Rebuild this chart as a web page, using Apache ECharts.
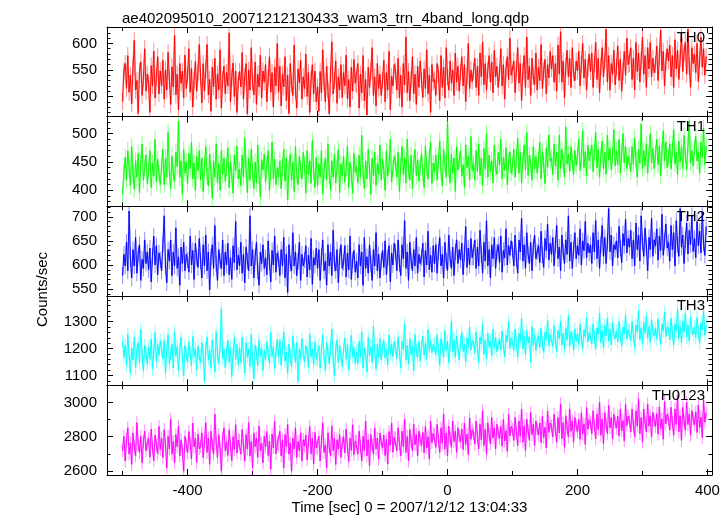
<!DOCTYPE html>
<html><head><meta charset="utf-8">
<script src="https://cdn.jsdelivr.net/npm/echarts@6/dist/echarts.min.js"></script>
<style>html,body{margin:0;padding:0;background:#fff}#c{width:724px;height:516px}</style>
</head><body><div id="c"></div>
<script>
// Time bins: first bin and bin width (sec)
const TIME_START = -500;
const TIME_STEP = 2;

const th0 = [
490,548,562,515,577,508,540,486,555,606,512,530,468,547,565,502,533,590,510,542,525,470,558,520,585,497,536,575,505,548,
520,568,495,550,512,583,532,485,556,518,615,503,542,475,562,525,548,497,578,515,540,590,508,553,480,530,566,510,545,598,
536,488,562,510,550,598,503,532,472,555,518,572,495,542,512,588,478,532,557,505,545,520,620,490,535,563,500,548,470,530,
547,518,583,495,537,562,467,550,512,592,526,503,565,485,542,518,578,497,548,527,560,490,535,575,508,545,480,555,520,600,
508,557,482,542,518,575,492,540,468,562,523,502,597,512,478,552,526,568,495,537,515,580,500,545,470,532,560,505,548,490,
518,472,547,507,588,528,490,557,512,467,542,603,505,530,567,487,537,512,560,498,545,520,578,495,532,480,555,510,570,525,
522,562,478,542,507,577,492,532,465,555,517,547,592,502,537,482,562,515,542,502,530,568,490,545,512,585,475,538,520,560,
547,512,572,497,540,480,562,522,612,507,547,492,532,575,505,542,485,557,517,567,530,498,552,515,588,505,540,470,560,528,
532,502,562,542,492,577,517,555,497,592,537,512,567,525,550,502,582,527,557,510,545,575,520,560,490,538,600,515,550,528,
547,572,517,557,502,582,537,602,522,562,512,550,577,527,565,507,587,537,557,517,545,590,520,560,495,552,575,532,610,540,
542,567,507,552,592,525,562,492,547,577,517,612,532,557,502,572,537,522,582,512,555,530,598,515,548,570,505,560,535,585,
552,577,527,562,510,597,542,622,527,567,497,557,587,537,572,517,592,545,530,567,548,585,520,560,600,535,570,512,555,580,
547,582,517,562,602,532,572,507,557,592,537,567,627,527,577,512,562,542,587,522,555,595,530,570,510,548,585,540,610,560,
562,592,532,572,512,602,547,582,527,567,612,542,577,517,592,552,602,537,572,545,560,595,530,575,625,548,585,520,565,590,
567,597,537,577,517,607,552,587,532,572,617,547,582,602,542,627,557,517,592,562,580,545,600,528,570,612,555,590,540,575
];
const th1 = [
393,432,458,418,470,438,408,477,430,402,452,423,465,396,447,482,418,440,462,412,435,470,405,448,425,490,415,455,430,410,
442,472,410,457,423,502,433,403,460,428,416,467,442,522,423,452,393,472,430,450,412,465,438,485,420,448,400,460,435,470,
418,457,398,442,477,426,408,464,433,386,452,423,482,413,447,400,470,428,457,416,440,475,405,450,428,395,462,435,478,420,
437,408,462,423,492,438,396,457,418,472,430,403,450,413,480,426,388,454,436,464,415,445,470,400,432,485,420,455,410,440,
423,452,403,442,472,416,457,383,437,464,418,450,398,477,428,410,460,438,420,467,445,395,470,428,452,412,488,435,405,458,
408,447,423,470,393,436,457,418,482,428,400,452,423,464,413,442,472,396,447,426,460,415,438,478,405,450,428,395,465,432,
442,413,462,423,497,430,403,452,420,472,436,393,457,426,467,408,447,428,480,418,455,435,400,470,425,445,490,415,438,460,
450,423,467,398,442,477,428,457,413,490,436,418,462,403,447,472,426,454,416,442,465,430,405,478,440,420,458,485,412,448,
432,462,418,452,487,433,408,472,447,423,522,438,413,464,430,457,398,477,436,452,470,425,445,405,480,440,460,418,495,435,
447,418,470,433,482,426,457,408,474,438,500,423,462,433,452,413,480,440,428,467,445,490,420,458,435,475,410,450,468,430,
442,472,423,457,492,430,467,413,452,480,436,502,426,462,447,418,477,438,460,430,455,485,420,468,445,412,475,440,498,452,
457,428,482,443,467,418,497,438,472,448,423,512,446,464,433,477,450,428,470,443,462,490,435,455,505,440,468,425,480,452,
452,480,433,467,502,440,472,423,460,487,438,467,428,497,453,474,436,462,507,443,470,445,490,430,465,500,448,478,438,460,
462,433,477,446,492,453,423,472,448,517,438,470,443,482,430,464,500,448,474,438,465,490,445,478,425,470,505,452,485,440,
457,482,438,472,507,446,467,428,487,450,477,438,497,462,436,480,522,448,470,443,475,495,452,468,430,485,458,510,445,478
];
const th2 = [
578,622,598,647,588,712,613,573,632,598,657,583,622,642,568,612,593,652,603,627,590,635,565,618,660,600,640,580,625,610,
588,642,702,598,563,632,608,652,578,627,598,677,593,617,558,637,603,647,588,622,610,585,660,600,630,570,645,615,595,655,
608,573,642,598,662,588,627,548,617,642,593,682,603,568,632,608,593,652,578,627,600,645,580,615,570,640,605,690,590,620,
598,647,583,622,563,637,608,588,702,598,632,573,617,647,588,558,627,603,642,593,615,580,650,605,565,630,600,660,585,625,
613,578,632,598,657,573,622,543,642,603,588,667,598,627,578,608,647,568,622,598,610,640,575,620,590,655,560,615,600,635,
593,632,568,617,652,588,608,558,642,598,627,578,672,603,588,632,563,617,642,593,605,640,575,625,590,660,570,610,630,585,
608,573,642,598,627,558,657,593,617,583,642,603,568,632,598,667,588,622,573,608,630,595,650,580,615,640,565,625,600,645,
627,588,652,603,578,642,613,692,593,627,568,647,608,588,632,598,657,583,622,603,615,645,575,630,600,670,590,620,585,640,
602,642,583,627,657,598,622,573,647,608,588,662,613,593,637,578,627,652,603,632,610,645,580,625,680,595,635,600,655,615,
617,652,593,637,598,672,622,583,647,608,692,598,632,573,642,613,657,593,627,642,605,660,585,630,615,675,600,640,620,650,
632,598,662,613,583,652,627,697,608,642,593,667,622,603,647,588,637,662,613,627,640,605,670,620,595,655,630,685,610,645,
622,657,598,642,682,613,637,588,662,627,603,652,622,702,608,647,593,632,667,613,640,620,675,600,650,630,690,615,645,625,
642,603,667,627,692,613,652,593,642,682,618,657,603,647,717,627,662,598,642,632,650,615,680,635,605,665,640,695,625,655,
637,672,613,652,598,687,632,662,608,702,647,618,677,637,588,657,632,697,618,652,640,675,610,660,630,705,620,650,685,635,
647,608,682,632,667,598,692,642,618,717,637,662,603,652,687,623,672,642,702,628,655,615,690,640,670,625,710,645,620,680
];
const th3 = [
1228,1168,1212,1138,1252,1178,1108,1202,1158,1242,1128,1192,1222,1148,1272,1173,1118,1212,1183,1142,1205,1160,1235,1125,1190,1260,1150,1215,1175,1230,
1198,1162,1232,1108,1192,1252,1143,1182,1217,1128,1262,1173,1207,1118,1197,1242,1163,1098,1212,1178,1150,1225,1185,1135,1245,1170,1200,1120,1210,1165,
1148,1222,1178,1078,1202,1242,1158,1192,1128,1232,1173,1113,1262,1183,1143,1212,1348,1163,1197,1128,1185,1230,1150,1205,1095,1175,1240,1160,1215,1140,
1203,1148,1242,1178,1108,1222,1168,1197,1133,1252,1158,1088,1212,1183,1138,1232,1173,1202,1118,1192,1160,1225,1180,1145,1260,1170,1205,1125,1190,1235,
1168,1232,1138,1202,1262,1153,1187,1108,1217,1173,1133,1247,1192,1148,1222,1078,1197,1163,1237,1178,1150,1210,1185,1130,1255,1170,1200,1140,1225,1160,
1158,1212,1128,1192,1252,1173,1118,1222,1187,1143,1202,1272,1163,1098,1197,1232,1148,1212,1173,1133,1195,1240,1160,1215,1120,1185,1250,1170,1205,1145,
1188,1143,1227,1168,1262,1128,1202,1178,1113,1242,1173,1207,1148,1282,1187,1123,1217,1168,1237,1158,1200,1230,1165,1195,1140,1250,1180,1215,1170,1225,
1202,1163,1242,1187,1128,1227,1197,1292,1158,1212,1143,1237,1178,1207,1118,1252,1192,1168,1227,1153,1210,1245,1175,1220,1160,1270,1190,1230,1185,1215,
1217,1178,1252,1197,1138,1237,1207,1168,1267,1192,1227,1148,1212,1302,1187,1232,1168,1247,1202,1158,1225,1260,1190,1215,1150,1240,1205,1280,1195,1230,
1222,1183,1262,1202,1148,1242,1217,1292,1178,1232,1163,1257,1207,1227,1173,1272,1202,1242,1188,1217,1235,1195,1265,1210,1170,1250,1225,1300,1200,1240,
1237,1193,1272,1217,1168,1257,1227,1312,1198,1247,1178,1267,1222,1242,1148,1282,1212,1252,1193,1232,1245,1205,1275,1220,1185,1260,1235,1305,1210,1250,
1247,1208,1287,1227,1188,1267,1237,1302,1213,1257,1198,1277,1232,1322,1208,1262,1242,1193,1272,1227,1255,1215,1290,1235,1200,1270,1245,1315,1225,1260,
1257,1218,1292,1242,1198,1277,1252,1332,1223,1267,1203,1287,1247,1312,1228,1272,1213,1297,1252,1237,1265,1225,1300,1245,1210,1280,1255,1325,1235,1270,
1267,1228,1302,1252,1203,1287,1262,1342,1233,1277,1218,1297,1257,1322,1238,1282,1223,1307,1262,1247,1275,1235,1310,1255,1215,1290,1265,1335,1245,1280,
1272,1233,1312,1257,1213,1292,1267,1347,1238,1282,1223,1302,1262,1332,1243,1287,1228,1317,1267,1252,1280,1240,1315,1260,1220,1295,1270,1340,1250,1285
];
const th0123 = [
2718,2802,2658,2782,2852,2698,2762,2638,2822,2742,2688,2882,2752,2708,2802,2648,2772,2832,2718,2762,2790,2680,2845,2735,2660,2810,2750,2700,2860,2725,
2792,2678,2842,2752,2618,2802,2728,2902,2698,2772,2648,2812,2742,2862,2688,2782,2718,2598,2802,2752,2705,2830,2760,2670,2880,2740,2790,2650,2815,2730,
2742,2822,2678,2772,2882,2708,2792,2638,2832,2752,2698,2932,2762,2678,2812,2728,2598,2792,2852,2718,2770,2690,2840,2745,2660,2800,2725,2870,2705,2780,
2782,2698,2842,2752,2658,2812,2728,2882,2688,2772,2618,2822,2742,2792,2678,2862,2718,2762,2648,2802,2740,2830,2690,2775,2610,2815,2735,2890,2700,2760,
2752,2832,2688,2782,2618,2812,2742,2872,2698,2762,2598,2792,2728,2852,2678,2772,2718,2822,2658,2782,2745,2810,2665,2770,2860,2700,2790,2640,2825,2735,
2728,2802,2658,2772,2882,2708,2752,2618,2822,2742,2688,2862,2718,2792,2638,2782,2728,2812,2678,2762,2800,2705,2845,2740,2655,2790,2720,2870,2695,2775,
2772,2698,2832,2742,2658,2802,2718,2892,2688,2782,2628,2812,2752,2698,2852,2728,2792,2668,2822,2762,2735,2810,2690,2785,2640,2830,2750,2880,2710,2795,
2792,2718,2852,2762,2688,2832,2742,2902,2708,2802,2658,2842,2772,2718,2872,2752,2812,2688,2832,2782,2750,2825,2705,2860,2735,2800,2670,2890,2765,2820,
2812,2738,2872,2782,2708,2852,2762,2932,2728,2822,2688,2862,2792,2738,2892,2772,2832,2708,2852,2802,2770,2845,2725,2880,2755,2815,2695,2910,2785,2840,
2822,2758,2892,2802,2728,2872,2782,2952,2748,2842,2698,2882,2812,2758,2912,2792,2852,2728,2872,2822,2790,2860,2745,2900,2775,2835,2715,2930,2805,2860,
2842,2778,2912,2822,2748,2892,2802,2962,2768,2862,2718,2902,2832,2778,2942,2812,2872,2748,2892,2842,2810,2880,2765,2920,2795,2855,2735,2950,2825,2880,
2862,2798,2932,2842,2768,2912,2822,2992,2788,2882,2738,2922,2852,2798,2962,2832,2892,2768,2912,2862,2830,2900,2785,2940,2815,2875,2755,2970,2845,2900,
2882,2818,2952,2862,2788,2932,2842,3002,2808,2902,2758,2942,2872,2818,2982,2852,2912,2788,2932,2882,2850,2920,2805,2960,2835,2895,2775,2990,2865,2920,
2892,2828,2962,2872,2798,2952,2862,3022,2818,2912,2768,2962,2882,2828,2992,2862,2922,2798,2942,2892,2860,2935,2815,2975,2845,2905,2785,3005,2875,2930,
2902,2838,2972,2882,2808,2962,2872,3042,2828,2922,2778,2972,2892,2838,3002,2872,2932,2808,2952,2902,2870,2945,2825,2985,2855,2915,2795,3015,2885,2940
];
// Typical 1-sigma error bar per bin for each band (counts/sec)
const errBars = [16, 15, 17, 25, 38];

const panelNames = ['TH0','TH1','TH2','TH3','TH0123'];
const panelData = [th0, th1, th2, th3, th0123];
const colors = ['#ff0000','#00ff00','#0000ff','#00ffff','#ff00ff'];
const lightColors = ['rgba(255,0,0,0.45)','rgba(0,255,0,0.45)','rgba(0,0,255,0.45)','rgba(0,255,255,0.45)','rgba(255,0,255,0.45)'];
const yMin = [462, 372, 536, 1063, 2576];
const yMax = [631, 530, 722, 1396, 3100];
const yMajor = [[500,550,600],[400,450,500],[550,600,650,700],[1100,1200,1300],[2600,2800,3000]];
const yMinorStep = [10, 10, 10, 20, 100];
const xMin = -524, xMax = 407;
const xMajor = [-400,-200,0,200,400];
const xMinor = [-500,-300,-100,100,300];
const titleText = 'ae402095010_20071212130433_wam3_trn_4band_long.qdp';
const xTitle = 'Time [sec] 0 = 2007/12/12 13:04:33';
const yTitle = 'Counts/sec';

const FONT = "'Liberation Sans', Arial, Helvetica, sans-serif";
const gridTop = 27, gridH = 89.6, gridLeft = 107, gridRight = 12;

const grids = [], xAxes = [], yAxes = [], series = [], graphics = [];
const lineC = '#000';
const plain = v => String(v);

for (let i = 0; i < 5; i++) {
  grids.push({left: gridLeft, right: gridRight, top: gridTop + i*gridH, height: gridH, containLabel: false});
  const isLast = i === 4;
  const xBase = {type:'value', gridIndex:i, min:xMin, max:xMax, offset:0,
    splitLine:{show:false}, axisLine:{show:true, onZero:false, lineStyle:{color:lineC, width:1}}};
  xAxes.push(Object.assign({}, xBase, {position:'bottom',
    axisTick:{show:true, inside:true, length:6, customValues:xMajor, lineStyle:{color:lineC}},
    axisLabel:{show:isLast, customValues:xMajor, formatter:plain, fontSize:15, color:'#000', fontFamily:FONT, margin:8},
    name: isLast ? xTitle : '', nameLocation:'middle', nameGap:25,
    nameTextStyle:{fontSize:15, color:'#000', fontFamily:FONT}}));
  xAxes.push(Object.assign({}, xBase, {position:'bottom', axisLine:{show:false, onZero:false},
    axisTick:{show:true, inside:true, length:4, customValues:xMinor, lineStyle:{color:lineC}},
    axisLabel:{show:false}}));
  xAxes.push(Object.assign({}, xBase, {position:'top',
    axisTick:{show:true, inside:true, length:6, customValues:xMajor, lineStyle:{color:lineC}},
    axisLabel:{show:false}}));
  xAxes.push(Object.assign({}, xBase, {position:'top', axisLine:{show:false, onZero:false},
    axisTick:{show:true, inside:true, length:4, customValues:xMinor, lineStyle:{color:lineC}},
    axisLabel:{show:false}}));

  const minors = [];
  const st = yMinorStep[i];
  for (let v = Math.ceil(yMin[i]/st)*st; v <= yMax[i]; v += st) {
    if (yMajor[i].indexOf(v) < 0) minors.push(v);
  }
  const yBase = {type:'value', gridIndex:i, min:yMin[i], max:yMax[i], offset:0,
    splitLine:{show:false}, axisLine:{show:true, onZero:false, lineStyle:{color:lineC, width:1}}};
  yAxes.push(Object.assign({}, yBase, {position:'left',
    axisTick:{show:true, inside:true, length:6, customValues:yMajor[i], lineStyle:{color:lineC}},
    axisLabel:{show:true, customValues:yMajor[i], formatter:plain, fontSize:15, color:'#000', fontFamily:FONT, margin:10}}));
  yAxes.push(Object.assign({}, yBase, {position:'left', axisLine:{show:false, onZero:false},
    axisTick:{show:true, inside:true, length:3.5, customValues:minors, lineStyle:{color:lineC}},
    axisLabel:{show:false}}));
  yAxes.push(Object.assign({}, yBase, {position:'right',
    axisTick:{show:true, inside:true, length:6, customValues:yMajor[i], lineStyle:{color:lineC}},
    axisLabel:{show:false}}));
  yAxes.push(Object.assign({}, yBase, {position:'right', axisLine:{show:false, onZero:false},
    axisTick:{show:true, inside:true, length:3.5, customValues:minors, lineStyle:{color:lineC}},
    axisLabel:{show:false}}));

  const pts = panelData[i].map((v, k) => [TIME_START + k*TIME_STEP, v]);
  const err = errBars[i];
  const lc = lightColors[i];
  series.push({type:'custom', xAxisIndex:i*4, yAxisIndex:i*4, data:pts, silent:true, clip:true, z:1,
    renderItem: function (params, api) {
      const x = api.value(0), y = api.value(1);
      const p1 = api.coord([x, y - err]);
      const p2 = api.coord([x, y + err]);
      const cs = params.coordSys;
      return {type:'line', shape:{x1:p1[0], y1:p1[1], x2:p2[0], y2:p2[1]},
        style:{stroke:lc, lineWidth:1}};
    }});
  series.push({type:'line', xAxisIndex:i*4, yAxisIndex:i*4, data:pts, showSymbol:false, symbol:'none',
    silent:true, lineStyle:{color:colors[i], width:1.8, opacity:0.3}, z:2});
  series.push({type:'line', xAxisIndex:i*4, yAxisIndex:i*4, data:pts, showSymbol:false, symbol:'none',
    silent:true, lineStyle:{color:colors[i], width:0.9}, z:3});

  graphics.push({type:'text', right: 724 - 705, top: gridTop + i*gridH + 3, z:10,
    style:{text:panelNames[i], fill:'#000', font:'15px ' + FONT, textAlign:'right'}});
}

graphics.push({type:'text', left: 35, top: 252, rotation: Math.PI/2, z:10,
  style:{text:yTitle, fill:'#000', font:'15px ' + FONT, textAlign:'center', textVerticalAlign:'middle'}});

const chart = echarts.init(document.getElementById('c'), null, {renderer:'canvas'});
chart.setOption({
  animation:false,
  backgroundColor:'#fff',
  title:{text:titleText, left:117, top:6, textStyle:{fontSize:15, fontWeight:'normal', color:'#000', fontFamily:FONT}},
  grid:grids, xAxis:xAxes, yAxis:yAxes, series:series, graphic:graphics
});
</script></body></html>
